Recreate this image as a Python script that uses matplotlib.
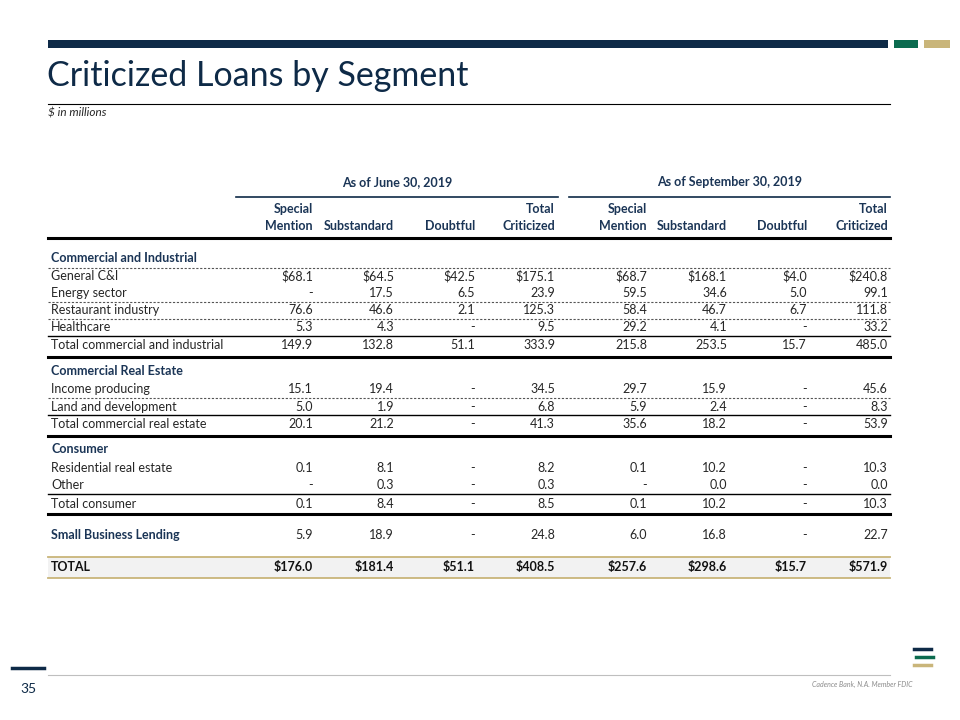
import numpy as np
import matplotlib.pyplot as plt
from matplotlib.patches import Rectangle

plt.rcParams['font.family'] = ['Lato', 'DejaVu Sans']

# Table data ($ in millions); nan = "-"
labels = ["Commercial and Industrial", "General C&I", "Energy sector", "Restaurant industry",
          "Healthcare", "Total commercial and industrial", "Commercial Real Estate",
          "Income producing", "Land and development", "Total commercial real estate",
          "Consumer", "Residential real estate", "Other", "Total consumer",
          "Small Business Lending", "TOTAL"]
kinds = ["head", "item", "item", "item", "item", "total", "head", "item", "item", "total",
         "head", "item", "item", "total", "sbl", "grand"]
dollar_rows = ["General C&I", "TOTAL"]
n = np.nan
jun_special = [None, 68.1, n, 76.6, 5.3, 149.9, None, 15.1, 5.0, 20.1, None, 0.1, n, 0.1, 5.9, 176.0]
jun_sub = [None, 64.5, 17.5, 46.6, 4.3, 132.8, None, 19.4, 1.9, 21.2, None, 8.1, 0.3, 8.4, 18.9, 181.4]
jun_doubt = [None, 42.5, 6.5, 2.1, n, 51.1, None, n, n, n, None, n, n, n, n, 51.1]
jun_total = [None, 175.1, 23.9, 125.3, 9.5, 333.9, None, 34.5, 6.8, 41.3, None, 8.2, 0.3, 8.5, 24.8, 408.5]
sep_special = [None, 68.7, 59.5, 58.4, 29.2, 215.8, None, 29.7, 5.9, 35.6, None, 0.1, n, 0.1, 6.0, 257.6]
sep_sub = [None, 168.1, 34.6, 46.7, 4.1, 253.5, None, 15.9, 2.4, 18.2, None, 10.2, 0.0, 10.2, 16.8, 298.6]
sep_doubt = [None, 4.0, 5.0, 6.7, n, 15.7, None, n, n, n, None, n, n, n, n, 15.7]
sep_total = [None, 240.8, 99.1, 111.8, 33.2, 485.0, None, 45.6, 8.3, 53.9, None, 10.3, 0.0, 10.3, 22.7, 571.9]
columns = [jun_special, jun_sub, jun_doubt, jun_total, sep_special, sep_sub, sep_doubt, sep_total]
col_heads = [("Special", "Mention"), ("", "Substandard"), ("", "Doubtful"), ("Total", "Criticized")] * 2
periods = ["As of June 30, 2019", "As of September 30, 2019"]

NAVY = '#0e2a47'
GREEN = '#0b6b4f'
TAN = '#c9b57a'
HEAD = '#1b3556'
TXT = '#262626'

fig = plt.figure(figsize=(9.6, 7.2), dpi=100)
ax = fig.add_axes([0, 0, 1, 1])
ax.set_xlim(0, 960)
ax.set_ylim(720, 0)
ax.axis('off')

# slide frame
ax.add_patch(Rectangle((48, 40), 840, 8, color=NAVY, lw=0))
ax.add_patch(Rectangle((894, 40), 24, 8, color=GREEN, lw=0))
ax.add_patch(Rectangle((924, 40), 26, 8, color=TAN, lw=0))
ax.text(47, 76, "Criticized Loans by Segment", fontsize=24.5, color=NAVY, va='center', ha='left')
ax.plot([48, 890], [103.5, 103.5], color='black', lw=0.8)
ax.text(48, 113, "$ in millions", fontsize=8.5, style='italic', color=TXT, va='center')

# table layout
col_x = [313, 394, 475, 555, 647, 727, 807, 888]
row_y = [258, 276, 293, 310, 327, 345, 371, 389, 407, 424, 449, 468, 485, 504, 535, 567]
L, R = 48, 890
FS = 9

for k, p in enumerate(periods):
    x0, x1 = (236, 558) if k == 0 else (569, 890)
    ax.text((x0 + x1) / 2, 182, p, fontsize=FS, fontweight='bold', color=HEAD, ha='center', va='center')
    ax.plot([x0, x1], [197, 197], color=NAVY, lw=1.2)
for x, (h1, h2) in zip(col_x, col_heads):
    ax.text(x, 209, h1, fontsize=FS, fontweight='bold', color=HEAD, ha='right', va='center')
    ax.text(x, 226, h2, fontsize=FS, fontweight='bold', color=HEAD, ha='right', va='center')

# rules
ax.add_patch(Rectangle((L, 557), R - L, 21, color='#f2f2f2', lw=0, zorder=0))
for y in [238, 357, 436, 514]:
    ax.plot([L, R], [y, y], color='black', lw=2.2)
for y in [336, 415, 494]:
    ax.plot([L, R], [y, y], color='black', lw=1.0)
for y in [268, 302, 319, 398]:
    ax.plot([L, R], [y, y], color='#555555', lw=0.8, ls=(0, (2, 1.5)))
for y in [557, 578]:
    ax.plot([L, R], [y, y], color=TAN, lw=1.3)

def fmt(v, dollar):
    if v is None:
        return ""
    if np.isnan(v):
        return "-"
    s = f"{v:,.1f}"
    return "$" + s if dollar else s

for i, (lab, kind) in enumerate(zip(labels, kinds)):
    y = row_y[i]
    bold = kind in ("head", "sbl", "grand")
    color = HEAD if kind in ("head", "sbl") else (TXT if kind != "grand" else '#111111')
    ax.text(51, y, lab, fontsize=FS, fontweight='bold' if bold else 'normal', color=color,
            ha='left', va='center')
    for x, col in zip(col_x, columns):
        ax.text(x, y, fmt(col[i], lab in dollar_rows), fontsize=FS,
                fontweight='bold' if kind == "grand" else 'normal',
                color='#111111' if kind == "grand" else TXT, ha='right', va='center')

# footer
ax.plot([12, 44], [668, 668], color=NAVY, lw=2.5)
ax.text(28, 689, "35", fontsize=10, color=NAVY, ha='center', va='center')
ax.plot([48, 890], [675, 675], color='#bfbfbf', lw=0.8)
ax.text(913, 684, "Cadence Bank, N.A. Member FDIC", fontsize=5, style='italic', color='#8c8c8c',
        ha='right', va='center')
ax.plot([914, 931], [649, 649], color=NAVY, lw=2.5)
ax.plot([916, 933], [657, 657], color=GREEN, lw=2.5)
ax.plot([914, 931], [665, 665], color=TAN, lw=2.5)

fig.savefig('out.png', dpi=100)
